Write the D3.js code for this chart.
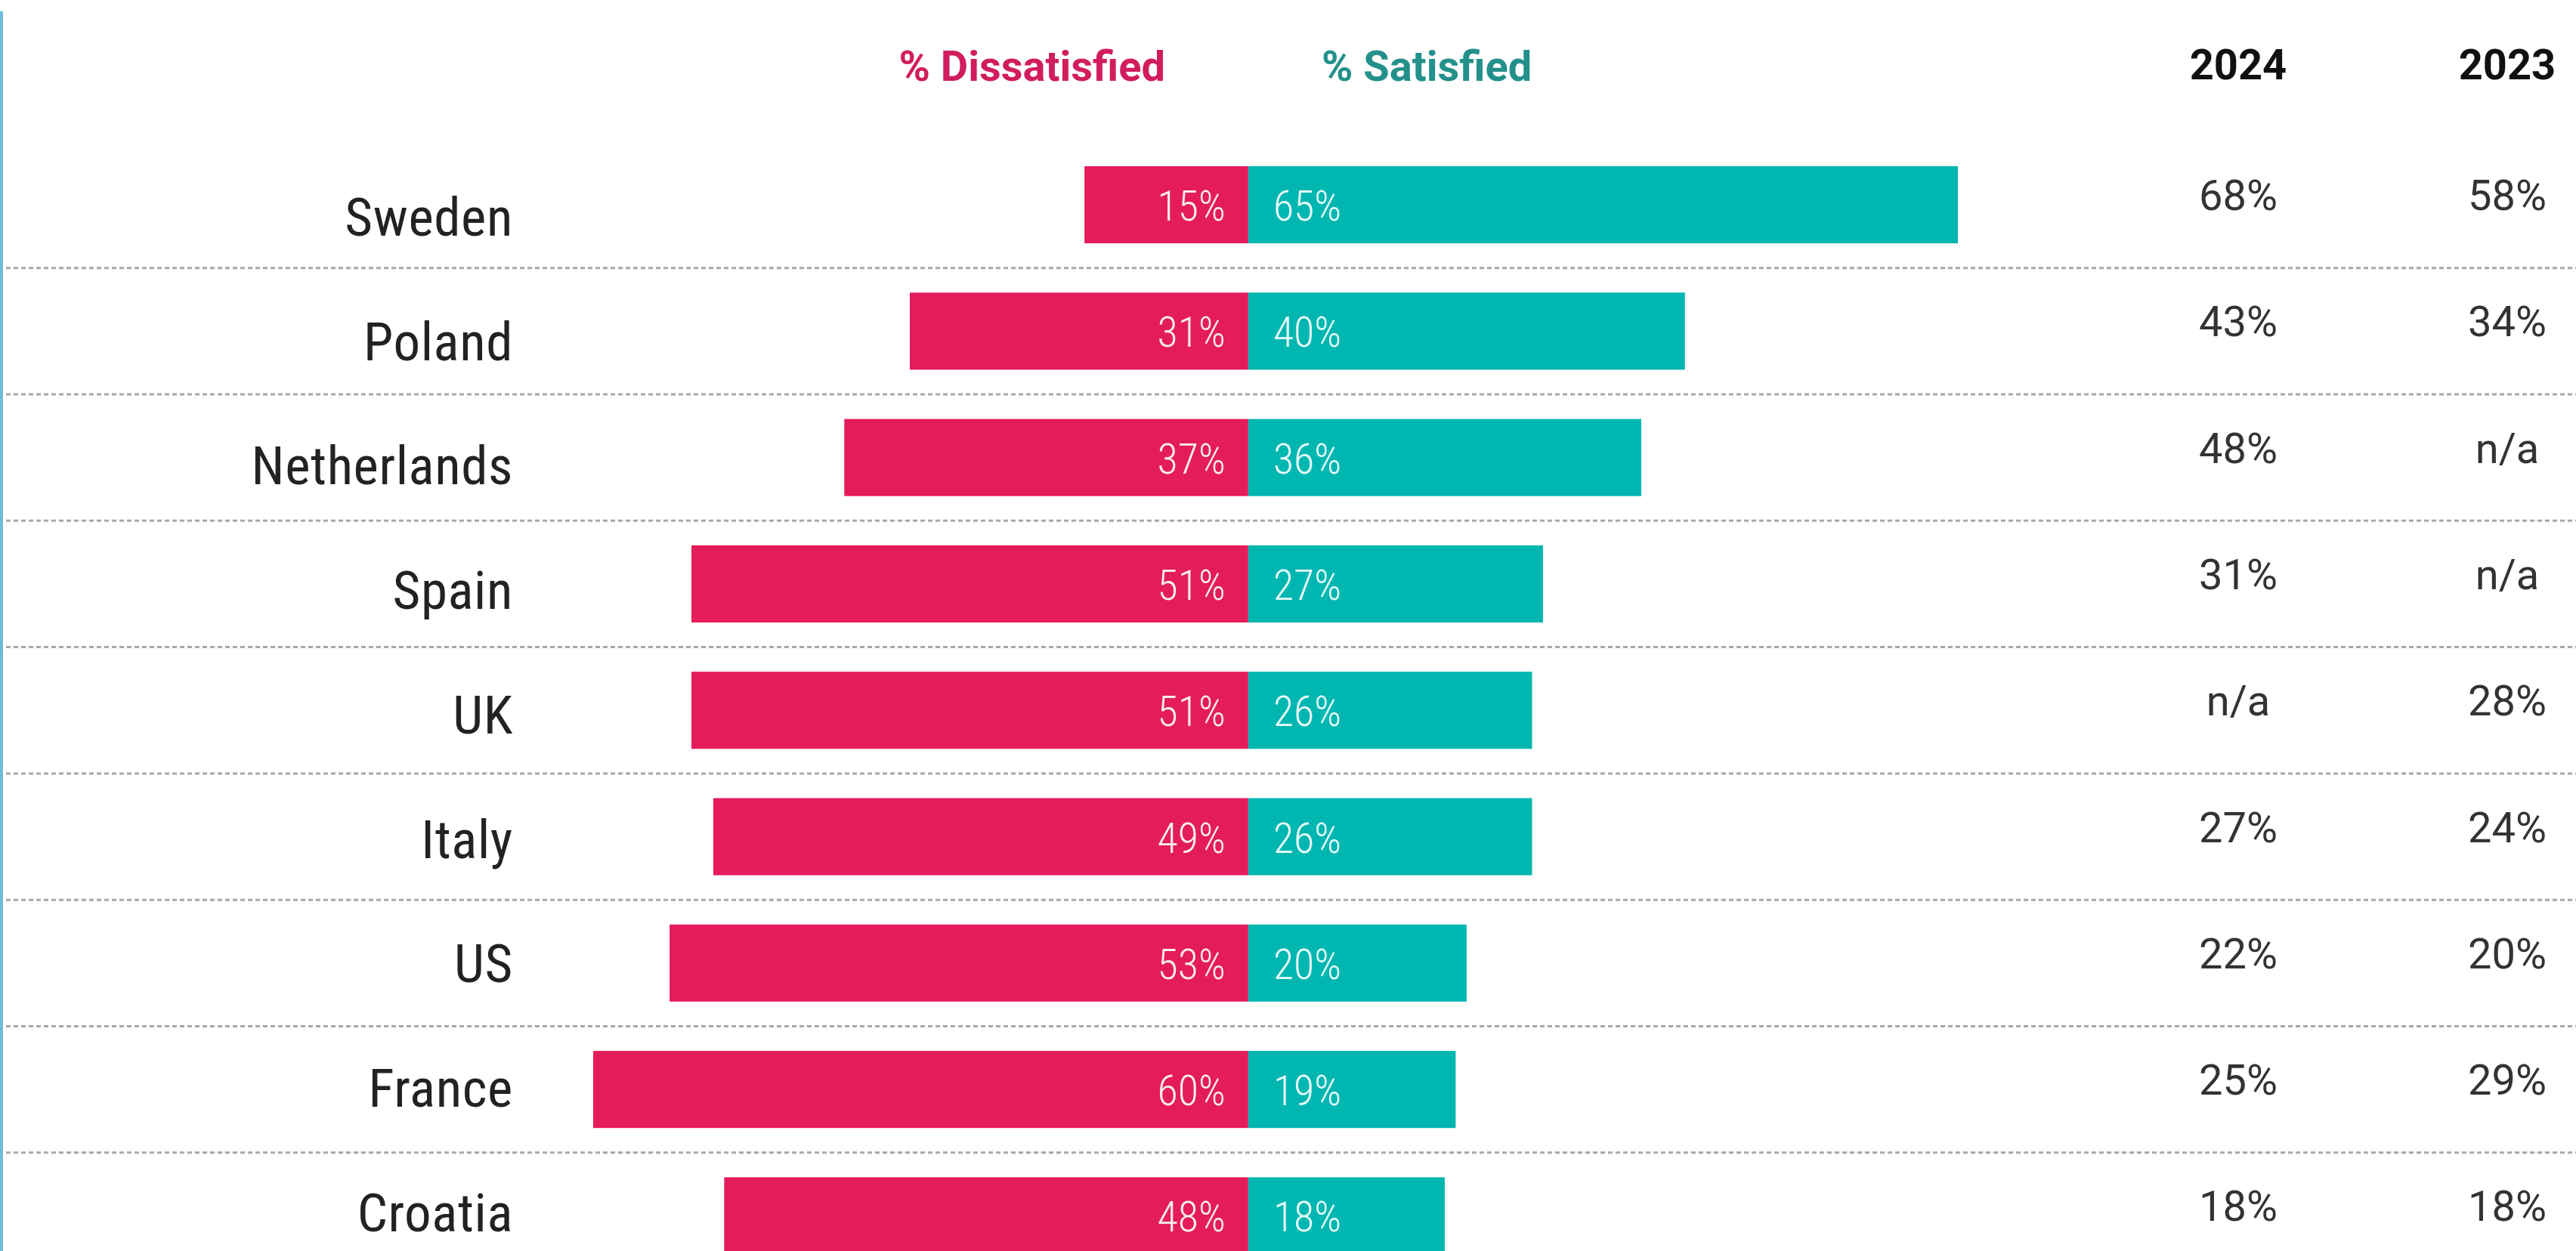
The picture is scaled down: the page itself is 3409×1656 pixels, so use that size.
<!DOCTYPE html>
<html>
<head>
<meta charset="utf-8">
<script src="https://cdn.jsdelivr.net/npm/d3@7"></script>
<style>
  html, body { margin: 0; padding: 0; background: #ffffff; }
  svg { display: block; }
</style>
</head>
<body>
<svg id="chart" width="3409" height="1656"></svg>
<script>
const countries = ["Sweden", "Poland", "Netherlands", "Spain", "UK", "Italy", "US", "France", "Croatia"];
const dissatisfied = [15, 31, 37, 51, 51, 49, 53, 60, 48];
const satisfied = [65, 40, 36, 27, 26, 26, 20, 19, 18];
const years = ["2024", "2023"];
const values2024 = ["68%", "43%", "48%", "31%", "n/a", "27%", "22%", "25%", "18%"];
const values2023 = ["58%", "34%", "n/a", "n/a", "28%", "24%", "20%", "29%", "18%"];
const seriesLabels = ["% Dissatisfied", "% Satisfied"];

const W = 3409, H = 1656;
const RED = "#e51c5a", TEAL = "#00b6b1";
const COND = "'Roboto Condensed', 'Liberation Sans Narrow', Roboto, sans-serif";
const REG = "Roboto, 'Noto Sans', sans-serif";

const svg = d3.select("#chart");

const x = d3.scaleLinear().domain([-60, 65]).range([785, 2591]);
const y = d3.scaleBand().domain(countries).range([187.4, 187.4 + 9 * 167.3])
  .paddingInner(0.39).paddingOuter(0.195);
// country labels sit on a slightly tighter rhythm than the bars
const yLabel = d3.scalePoint().domain(countries).range([312, 312 + 8 * 164.7]);
const colX = d3.scalePoint().domain(years).range([2962, 3318]);

// left blue rule
svg.append("rect").attr("x", 0).attr("y", 15).attr("width", 4).attr("height", H - 15)
  .attr("fill", "#6cbcdc");

// dotted separators
const step = y.step();
svg.append("g").selectAll("line")
  .data(countries.slice(0, countries.length - 1))
  .join("line")
  .attr("x1", 8).attr("x2", W)
  .attr("y1", d => y(d) + y.bandwidth() + (step - y.bandwidth()) / 2)
  .attr("y2", d => y(d) + y.bandwidth() + (step - y.bandwidth()) / 2)
  .attr("stroke", "#a8a8a8").attr("stroke-width", 3)
  .attr("stroke-dasharray", "6,4");

const rows = countries.map((c, i) => ({
  c, dis: dissatisfied[i], sat: satisfied[i], v24: values2024[i], v23: values2023[i]
}));

// bars
svg.append("g").selectAll("rect")
  .data(rows).join("rect")
  .attr("x", d => x(-d.dis)).attr("y", d => y(d.c))
  .attr("width", d => x(0) - x(-d.dis)).attr("height", y.bandwidth())
  .attr("fill", RED);
svg.append("g").selectAll("rect")
  .data(rows).join("rect")
  .attr("x", x(0)).attr("y", d => y(d.c))
  .attr("width", d => x(d.sat) - x(0)).attr("height", y.bandwidth())
  .attr("fill", TEAL);

// bar labels
svg.append("g").selectAll("text")
  .data(rows).join("text")
  .attr("x", x(0) - 30).attr("y", d => y(d.c) + y.bandwidth() / 2 + 21)
  .attr("text-anchor", "end")
  .attr("font-family", COND).attr("font-weight", 300).attr("font-size", 56).attr("fill", "#f6eef0")
  .text(d => d.dis + "%");
svg.append("g").selectAll("text")
  .data(rows).join("text")
  .attr("x", x(0) + 33).attr("y", d => y(d.c) + y.bandwidth() / 2 + 21)
  .attr("text-anchor", "start")
  .attr("font-family", COND).attr("font-weight", 300).attr("font-size", 56).attr("fill", "#e8fbfa")
  .text(d => d.sat + "%");

// country labels
svg.append("g").selectAll("text")
  .data(rows).join("text")
  .attr("x", 679).attr("y", d => yLabel(d.c))
  .attr("text-anchor", "end")
  .attr("font-family", COND).attr("font-size", 71).attr("letter-spacing", 0.6).attr("fill", "#222")
  .text(d => d.c);

// right columns
svg.append("g").selectAll("text")
  .data(rows).join("text")
  .attr("x", colX("2024")).attr("y", d => y(d.c) + y.bandwidth() / 2 + 7)
  .attr("text-anchor", "middle")
  .attr("font-family", REG).attr("font-size", 56).attr("fill", "#333")
  .text(d => d.v24);
svg.append("g").selectAll("text")
  .data(rows).join("text")
  .attr("x", colX("2023")).attr("y", d => y(d.c) + y.bandwidth() / 2 + 7)
  .attr("text-anchor", "middle")
  .attr("font-family", REG).attr("font-size", 56).attr("fill", "#333")
  .text(d => d.v23);

// headers
svg.append("g").selectAll("text")
  .data(years).join("text")
  .attr("x", d => colX(d)).attr("y", 105)
  .attr("text-anchor", "middle")
  .attr("font-family", REG).attr("font-weight", "bold")
  .attr("font-size", 56).attr("fill", "#111")
  .text(d => d);

svg.append("text").attr("x", 1542).attr("y", 107)
  .attr("text-anchor", "end")
  .attr("font-family", REG).attr("font-weight", "bold")
  .attr("font-size", 56).attr("fill", "#d11d5e")
  .text(seriesLabels[0]);
svg.append("text").attr("x", 1749).attr("y", 107)
  .attr("text-anchor", "start")
  .attr("font-family", REG).attr("font-weight", "bold")
  .attr("font-size", 56).attr("fill", "#23908b")
  .text(seriesLabels[1]);
</script>
</body>
</html>
